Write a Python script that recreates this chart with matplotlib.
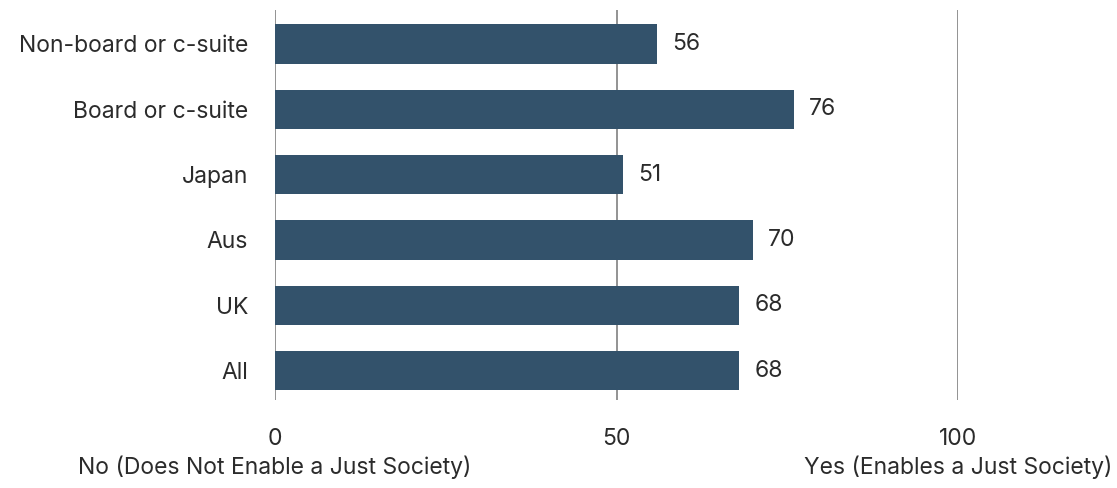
import matplotlib.pyplot as plt

plt.rcParams['font.family'] = ['Inter', 'DejaVu Sans']

# bottom-to-top order
groups = ['All', 'UK', 'Aus', 'Japan', 'Board or c-suite', 'Non-board or c-suite']
values = [68, 68, 70, 51, 76, 56]
ticks = [0, 50, 100]
end_labels = {0: 'No (Does Not Enable a Just Society)', 100: 'Yes (Enables a Just Society)'}

bar_color = '#33526b'
grid_color = '#8a8a8a'
text_color = '#2b2b2b'
fs = 16.5

fig = plt.figure(figsize=(11.17, 4.88), dpi=100)
ax = fig.add_axes([275 / 1117, 1 - 400 / 488, 683 / 1117, 390 / 488])

pos = range(len(groups))
ax.barh(pos, values, height=0.6, color=bar_color, zorder=2)

for x in ticks:
    ax.axvline(x, color=grid_color, lw=1.3, zorder=1)

for y, v in zip(pos, values):
    ax.text(v + 2.2, y, str(v), va='center', ha='left', fontsize=fs, color=text_color)

ax.set_xlim(0, 100)
ax.set_ylim(-0.45, 5.52)
ax.set_yticks(list(pos))
ax.set_yticklabels(groups, fontsize=fs, color=text_color)
ax.set_xticks(ticks)
ax.set_xticklabels([str(t) for t in ticks], fontsize=fs, color=text_color)
ax.tick_params(axis='both', length=0)
ax.tick_params(axis='y', pad=19.5)
ax.tick_params(axis='x', pad=20)
for s in ax.spines.values():
    s.set_visible(False)

# second line under the end ticks
for x, lab in end_labels.items():
    ax.text(x, -0.172, lab, transform=ax.get_xaxis_transform(),
            ha='center', va='center', fontsize=fs, color=text_color, clip_on=False)

fig.savefig('out.png', dpi=100)
